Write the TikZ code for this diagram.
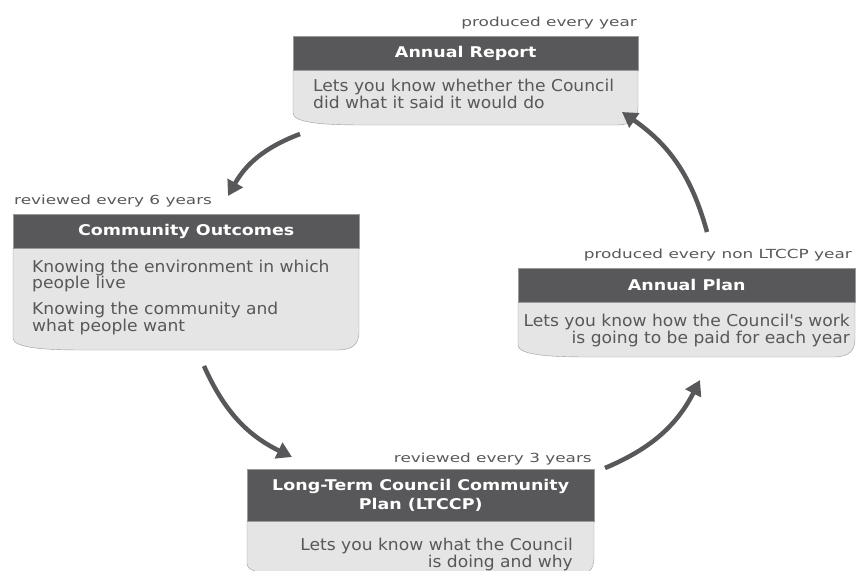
\documentclass[tikz,border=0pt]{standalone}
\usepackage{fontspec}
\setmainfont{DejaVu Sans}
\newfontfamily\notefont{DejaVu Sans}[FakeStretch=1.05]
\newfontfamily\tagfont{DejaVu Sans}[FakeStretch=1.35]
\newfontfamily\headfont{DejaVu Sans}[FakeStretch=1.18]
\usetikzlibrary{arrows.meta}
\definecolor{headgray}{HTML}{58585A}
\definecolor{bodygray}{HTML}{E5E5E5}
\definecolor{edgegray}{HTML}{9A9A9A}
\definecolor{textgray}{HTML}{585858}
% light box under a header: left x, top y, right x, bottom y
\newcommand\docbody[4]{%
  \draw[bodybox] (#1,-#2) -- (#1,-#4+12) .. controls (#1,-#4+3) and (#1+25,-#4) .. (#1+70,-#4)
    -- (#3-22,-#4) .. controls (#3-6,-#4) and (#3,-#4+6) .. (#3,-#4+18) -- (#3,-#2) -- cycle;}

\begin{document}
\begin{tikzpicture}[x=1pt, y=1pt,
    head/.style={draw=edgegray, fill=headgray, text=white, anchor=north west, inner sep=0pt,
      align=center, font=\headfont\fontsize{14.8}{19.5}\selectfont\bfseries},
    bodybox/.style={draw=edgegray, fill=bodygray},
    note/.style={text=textgray, inner sep=0pt, font=\notefont\fontsize{16.3}{16.8}\selectfont},
    tag/.style={text=textgray, inner sep=0pt, font=\tagfont\fontsize{12.5}{15}\selectfont},
    cyc/.style={draw=headgray, line width=4.5pt, -{Triangle[length=15pt,width=17pt]}, bend right=20}]
    \useasboundingbox (0,0) rectangle (858,-570);

    % Annual Report
    \node[tag, anchor=base east] (artag) at (637,-26) {produced every year};
    \docbody{293}{70}{638}{125}
    \node[head, minimum width=345pt, minimum height=34pt] (arhead) at (293,-36) {Annual Report};
    \node[note, anchor=north west, align=left] (arbody) at (313,-79) {Lets you know whether the Council\\did what it said it would do};

    % Community Outcomes
    \node[tag, anchor=base west] (cotag) at (14,-204) {reviewed every 6 years};
    \docbody{13}{248}{359}{350}
    \node[head, minimum width=346pt, minimum height=34pt] (cohead) at (13,-214) {Community Outcomes};
    \node[note, anchor=north west, align=left] (cobody1) at (32,-259.5) {Knowing the environment in which\\people live};
    \node[note, anchor=north west, align=left] (cobody2) at (32,-302) {Knowing the community and\\what people want};

    % Long-Term Council Community Plan
    \node[tag, anchor=base east] (lttag) at (592,-462) {reviewed every 3 years};
    \docbody{247}{521}{594}{576}
    \node[head, minimum width=347pt, minimum height=52pt] (lthead) at (247,-469) {Long-Term Council Community\\Plan (LTCCP)};
    \node[note, anchor=north east, align=right] (ltbody) at (573,-538) {Lets you know what the Council\\is doing and why};

    % Annual Plan
    \node[tag, anchor=base east] (aptag) at (852,-258) {produced every non LTCCP year};
    \docbody{518}{302}{855}{357}
    \node[head, minimum width=337pt, minimum height=34pt] (aphead) at (518,-268) {Annual Plan};
    \node[note, anchor=north east, align=right] (apbody) at (850,-314) {Lets you know how the Council's work\\is going to be paid for each year};

    % arrows round the cycle
    \coordinate (a1s) at (300,-134);
    \coordinate (a1e) at (228,-196);
    \coordinate (a2s) at (204,-366);
    \coordinate (a2e) at (292,-457);
    \coordinate (a3s) at (605,-468);
    \coordinate (a3e) at (700,-380);
    \coordinate (a4s) at (707,-232);
    \coordinate (a4e) at (622,-112);
    \draw[cyc] (a1s) to (a1e);
    \draw[cyc] (a2s) to (a2e);
    \draw[cyc] (a3s) to (a3e);
    \draw[cyc] (a4s) to (a4e);
\end{tikzpicture}
\end{document}
